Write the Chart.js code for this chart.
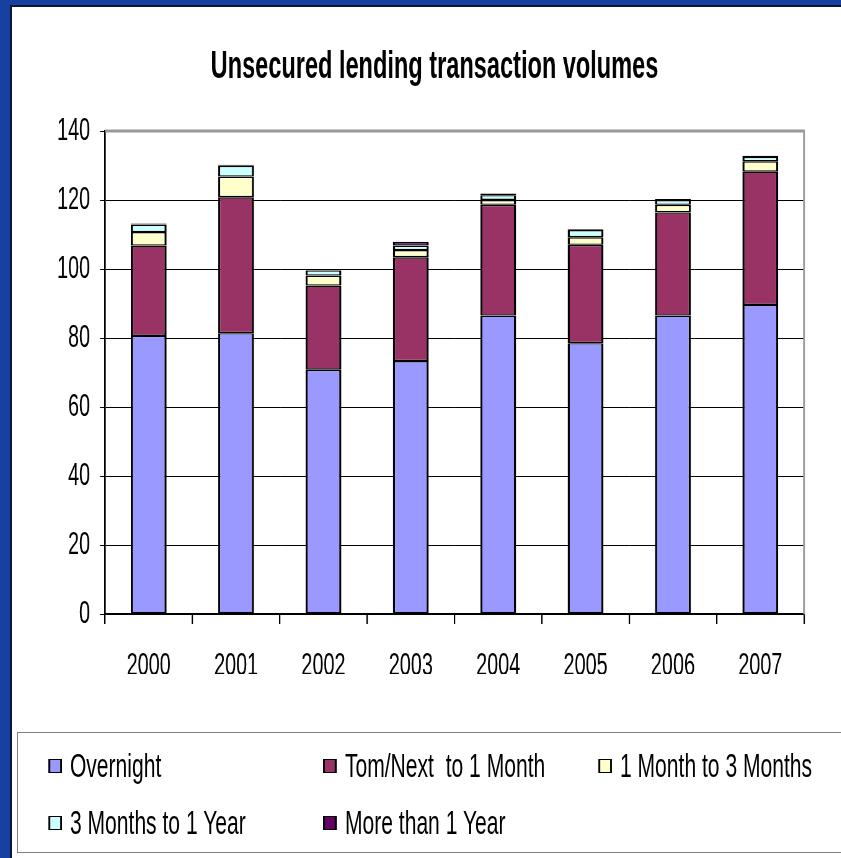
<!DOCTYPE html>
<html lang="en">
<head>
  <meta charset="UTF-8">
  <title>Unsecured lending transaction volumes</title>
  <style>
    html, body {
      margin: 0;
      padding: 0;
      width: 841px;
      height: 858px;
      overflow: hidden;
      background: #1741a0;
    }
    #panel {
      position: absolute;
      left: 10px;
      top: 5px;
      width: 860px;
      height: 880px;
      background: #fff;
      border-left: 2px solid #0b1838;
      border-top: 2px solid #0b1838;
    }
    #stage {
      position: absolute;
      left: 0;
      top: 0;
      height: 858px;
      transform-origin: 0 0;
      font-family: 'Liberation Sans', Arial, sans-serif;
    }
    #chart {
      position: absolute;
      left: 0;
      top: 0;
    }
    #legend {
      position: absolute;
      top: 732px;
      height: 121px;
      border: 1px solid #808080;
      display: grid;
      grid-template-rows: 57px 57px;
      padding-top: 4px;
      box-sizing: border-box;
    }
    .item {
      display: flex;
      align-items: center;
      font-size: 34px;
      color: #000;
      white-space: pre;
    }
    .swatch {
      height: 12px;
      border: 1.5px solid #000;
    }
  </style>
</head>
<body>
  <div id="panel"></div>
  <div id="stage">
    <canvas id="chart"></canvas>
    <div id="legend"></div>
  </div>
  <script src="https://cdn.jsdelivr.net/npm/chart.js"></script>
  <script>
    const years = ['2000', '2001', '2002', '2003', '2004', '2005', '2006', '2007'];
    const overnight = [80.6, 81.4, 70.8, 73.3, 86.5, 78.5, 86.5, 89.6];
    const tomNext = [26.2, 39.4, 24.4, 30.1, 32.1, 28.5, 29.9, 38.6];
    const oneToThreeMonths = [3.9, 6.0, 2.9, 2.1, 1.4, 2.2, 2.2, 3.0];
    const threeMonthsToYear = [2.2, 3.1, 1.5, 1.3, 1.4, 2.1, 1.4, 1.3];
    const moreThanYear = [0.3, 0.3, 0.4, 1.1, 0.5, 0.2, 0.3, 0.3];

    const seriesNames = ['Overnight', 'Tom/Next  to 1 Month', '1 Month to 3 Months', '3 Months to 1 Year', 'More than 1 Year'];
    const seriesColors = ['#9999ff', '#993366', '#ffffcc', '#ccffff', '#660066'];
    const seriesData = [overnight, tomNext, oneToThreeMonths, threeMonthsToYear, moreThanYear];

    const titleText = 'Unsecured lending transaction volumes';
    const fontFamily = "'Liberation Sans', Arial, sans-serif";

    // the original slide is squeezed sideways, so the whole chart is drawn wide
    // and then scaled on x; px() turns a screen x into a stage x
    const SX = 0.62;
    const px = (v) => v / SX;
    const W = Math.round(px(841));
    const H = 858;

    const stage = document.getElementById('stage');
    stage.style.width = W + 'px';
    stage.style.transform = 'scaleX(' + SX + ')';
    const canvas = document.getElementById('chart');
    canvas.width = W;
    canvas.height = H;

    const framePlugin = {
      id: 'frame',
      beforeDatasetsDraw(chart) {
        const { ctx, chartArea } = chart;
        ctx.save();
        ctx.strokeStyle = '#999';
        ctx.lineWidth = 3;
        ctx.beginPath();
        ctx.moveTo(chartArea.left, chartArea.top);
        ctx.lineTo(chartArea.right, chartArea.top);
        ctx.lineTo(chartArea.right, chartArea.bottom);
        ctx.stroke();
        ctx.restore();
      },
      afterDraw(chart) {
        const ctx = chart.ctx;
        ctx.save();
        ctx.font = 'bold 38px ' + fontFamily;
        ctx.fillStyle = '#000';
        ctx.textAlign = 'center';
        ctx.textBaseline = 'middle';
        ctx.fillText(titleText, px(434.5), 68);
        ctx.restore();
      }
    };

    const chart = new Chart(canvas.getContext('2d'), {
      type: 'bar',
      data: {
        labels: years,
        datasets: seriesNames.map((name, i) => ({
          label: name,
          data: seriesData[i],
          backgroundColor: seriesColors[i],
          borderColor: '#000',
          borderWidth: { top: 1.4, bottom: 1.4, left: 3.4, right: 3.4 },
          borderSkipped: false,
          categoryPercentage: 1,
          barPercentage: 0.41
        }))
      },
      options: {
        responsive: false,
        animation: false,
        devicePixelRatio: 1,
        layout: {
          padding: { top: 131, right: W - px(804), bottom: 184, left: 0 }
        },
        plugins: {
          legend: { display: false },
          title: { display: false },
          tooltip: { enabled: false }
        },
        scales: {
          x: {
            stacked: true,
            grid: {
              drawOnChartArea: false,
              drawTicks: true,
              tickLength: 10,
              color: '#000',
              lineWidth: 2.2
            },
            border: { display: true, color: '#000', width: 1.5 },
            ticks: {
              color: '#000',
              font: { family: fontFamily, size: 32 },
              padding: 23,
              maxRotation: 0
            },
            afterFit(scale) { scale.height = 60; }
          },
          y: {
            stacked: true,
            min: 0,
            max: 140,
            ticks: {
              stepSize: 20,
              color: '#000',
              font: { family: fontFamily, size: 32 },
              padding: 16
            },
            grid: {
              color: (c) => (c.tick && c.tick.value === 140 ? '#999' : '#000'),
              tickColor: '#000',
              lineWidth: 1,
              tickLength: 8
            },
            border: { display: true, color: '#000', width: 2.6 },
            afterFit(scale) { scale.width = px(105); }
          }
        }
      },
      plugins: [framePlugin]
    });

    // legend in three columns, as on the slide
    const legend = document.getElementById('legend');
    legend.style.left = px(17) + 'px';
    legend.style.width = (W - px(17) + 40) + 'px';
    legend.style.borderLeftWidth = '2px';
    legend.style.paddingLeft = (px(47) - px(17)) + 'px';
    legend.style.gridTemplateColumns = [1, 2, 3].map(() => px(275) + 'px').join(' ');
    chart.data.datasets.forEach((ds) => {
      const item = document.createElement('div');
      item.className = 'item';
      const sw = document.createElement('span');
      sw.className = 'swatch';
      sw.style.width = px(10) + 'px';
      sw.style.borderLeftWidth = '3px';
      sw.style.borderRightWidth = '3px';
      sw.style.marginRight = px(8) + 'px';
      sw.style.background = ds.backgroundColor;
      item.appendChild(sw);
      item.appendChild(document.createTextNode(ds.label));
      legend.appendChild(item);
    });
  </script>
</body>
</html>
